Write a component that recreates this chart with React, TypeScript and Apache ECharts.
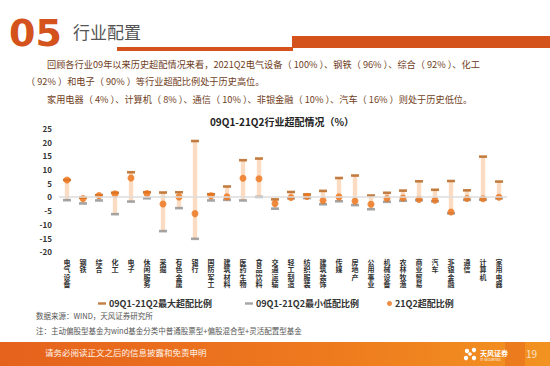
import React, { useEffect, useRef } from "react";
import * as echarts from "echarts";

const categories = ["电气设备","钢铁","综合","化工","电子","休闲服务","采掘","有色金属","银行","国防军工","建筑材料","医药生物","食品饮料","交通运输","轻工制造","纺织服装","建筑装饰","传媒","房地产","公用事业","机械设备","农林牧渔","商业贸易","汽车","非银金融","通信","计算机","家用电器"];
const maxVals = [6.2,-0.3,0.6,1.5,9.0,1.7,1.6,1.7,20.4,1.0,3.8,13.4,14.0,-0.9,1.8,0.9,2.2,6.9,7.8,0.5,1.5,2.3,5.7,2.6,5.8,2.4,14.7,5.6];
const minVals = [-1.2,-2.4,-1.3,-6.3,-1.7,-0.5,-12.5,-4.1,-15.3,-1.3,-1.1,-1.3,0.0,-4.3,-0.5,-0.4,-2.7,-1.6,-3.0,-4.5,-1.8,-1.4,-1.2,-1.6,-6.0,-1.1,-1.0,-0.5];
const curVals = [6.2,-0.6,0.5,1.1,6.9,1.2,-2.6,0.0,-6.1,0.4,0.0,6.8,6.6,-2.4,-0.2,0.2,-1.3,0.0,-1.5,-2.7,-0.6,-0.4,-0.9,-1.2,-5.5,-0.6,-0.7,-0.1];
const yTicks = { min: -20, max: 25, interval: 5 };
const seriesNames = ["09Q1-21Q2最大超配比例", "09Q1-21Q2最小低配比例", "21Q2超配比例"];

const FONT = "'Noto Sans CJK SC', 'Noto Sans', sans-serif";

export default function App() {
  const ref = useRef<HTMLDivElement>(null);
  useEffect(() => {
    if (!ref.current) return;
    const chart = echarts.init(ref.current, undefined, { renderer: "svg" });
    const dash = "path://M0,0H10V3H0Z";
    const option: any = {
      animation: false,
      backgroundColor: "#ffffff",
      textStyle: { fontFamily: FONT },
      title: {
        text: "09Q1-21Q2行业超配情况（%）",
        left: 277,
        top: 111,
        textAlign: "center",
        textStyle: { fontSize: 10, fontWeight: "bold", color: "#222", fontFamily: FONT },
      },
      legend: [0, 1, 2].map((k) => ({
        data: [{ name: seriesNames[k], icon: k === 2 ? "circle" : dash }],
        left: [93, 240, 382][k],
        top: 294,
        itemWidth: k === 2 ? 5 : 8,
        itemHeight: k === 2 ? 5 : 8,
        itemGap: 4,
        textStyle: { fontSize: 9, fontWeight: "bold", color: "#333", fontFamily: FONT, padding: [0, 0, 0, -2] },
        selectedMode: false,
      })),
      grid: { left: 59, right: 43, top: 128.4, height: 123.3 },
      xAxis: {
        type: "category",
        data: categories,
        axisLine: { show: false },
        axisTick: { show: false },
        axisLabel: {
          interval: 0,
          margin: 6,
          fontSize: 7,
          lineHeight: 7.6,
          fontWeight: "bold",
          color: "#333",
          fontFamily: FONT,
          verticalAlign: "top",
          formatter: (v: string) => v.split("").join("\n"),
        },
      },
      yAxis: {
        type: "value",
        min: yTicks.min,
        max: yTicks.max,
        interval: yTicks.interval,
        splitLine: { show: false },
        axisLine: { show: false },
        axisTick: { show: false },
        axisLabel: { fontSize: 8, fontWeight: "bold", color: "#333", margin: 7, fontFamily: FONT },
      },
      series: [
        {
          type: "custom",
          name: "range",
          data: categories.map((_, i) => [i, minVals[i], maxVals[i]]),
          encode: { x: 0, y: [1, 2] },
          renderItem: (params: any, api: any) => {
            const i = api.value(0);
            const lo = api.coord([i, api.value(1)]);
            const hi = api.coord([i, api.value(2)]);
            return {
              type: "rect",
              shape: { x: lo[0] - 2.2, y: hi[1], width: 4.4, height: lo[1] - hi[1] },
              style: { fill: "#FBDCC2" },
            };
          },
          markLine: {
            silent: true,
            symbol: "none",
            label: { show: false },
            lineStyle: { color: "#DCDCDC", width: 1.5, type: "solid" },
            data: [{ yAxis: 0 }],
          },
          z: 1,
        },
        {
          type: "scatter",
          name: seriesNames[1],
          data: minVals,
          symbol: "rect",
          symbolSize: [8, 2.6],
          itemStyle: { color: "#8E8E8E" },
          z: 2,
        },
        {
          type: "scatter",
          name: seriesNames[0],
          data: maxVals,
          symbol: "rect",
          symbolSize: [8, 2.6],
          itemStyle: { color: "#B45E14" },
          z: 3,
        },
        {
          type: "scatter",
          name: seriesNames[2],
          data: curVals,
          symbol: "circle",
          symbolSize: 7,
          itemStyle: { color: "#EC7318" },
          z: 4,
        },
      ],
      graphic: [
        { type: "text", left: 9, top: 14, style: { text: "05", fontSize: 38, fontWeight: 900, fill: "#D4521B", fontFamily: "'DejaVu Sans', sans-serif" } },
        { type: "text", left: 73, top: 23, style: { text: "行业配置", fontSize: 17, fill: "#555555", fontFamily: FONT } },
        { type: "rect", shape: { x: 117, y: 47, width: 176, height: 4 }, style: { fill: "#D4521B" } },
        { type: "rect", shape: { x: 292, y: 36, width: 258, height: 12 }, style: { fill: "#D4521B" } },
        { type: "text", left: 47, top: 59, style: { text: "回顾各行业09年以来历史超配情况来看，2021Q2电气设备（ 100% ）、钢铁（ 96% ）、综合（ 92% ）、化工", fontSize: 9.2, fill: "#70401C", fontFamily: FONT } },
        { type: "text", left: 26, top: 76, style: { text: "（ 92% ）和电子（ 90% ）等行业超配比例处于历史高位。", fontSize: 9.2, fill: "#70401C", fontFamily: FONT } },
        { type: "text", left: 47, top: 94, style: { text: "家用电器（ 4% ）、计算机（ 8% ）、通信（ 10% ）、非银金融（ 10% ）、汽车（ 16% ）则处于历史低位。", fontSize: 9.2, fill: "#70401C", fontFamily: FONT } },
        { type: "text", left: 36, top: 312, style: { text: "数据来源：WIND，天风证券研究所", fontSize: 7.5, fill: "#555", fontFamily: FONT } },
        { type: "text", left: 36, top: 327, style: { text: "注：主动偏股型基金为wind基金分类中普通股票型+偏股混合型+灵活配置型基金", fontSize: 7.5, fill: "#555", fontFamily: FONT } },
        {
          type: "rect",
          shape: { x: 0, y: 342, width: 550, height: 24 },
          style: {
            fill: new echarts.graphic.LinearGradient(0, 0, 1, 0, [
              { offset: 0, color: "#E5621D" },
              { offset: 0.6, color: "#EE7A1E" },
              { offset: 1, color: "#F29321" },
            ]),
          },
        },
        { type: "rect", shape: { x: 505, y: 342, width: 20, height: 24 }, style: { fill: "#E8701C", opacity: 0.6 } },
        { type: "text", left: 45, top: 348, style: { text: "请务必阅读正文之后的信息披露和免责申明", fontSize: 8.5, fill: "#FFF4EA", fontFamily: FONT } },
        { type: "circle", shape: { cx: 467, cy: 351, r: 2.2 }, style: { fill: "#fff" } },
        { type: "circle", shape: { cx: 474, cy: 350, r: 2.2 }, style: { fill: "#fff" } },
        { type: "circle", shape: { cx: 466, cy: 358, r: 2.2 }, style: { fill: "#fff" } },
        { type: "circle", shape: { cx: 474, cy: 358, r: 2.2 }, style: { fill: "#fff" } },
        { type: "circle", shape: { cx: 470, cy: 354, r: 1.8 }, style: { fill: "#fff" } },
        { type: "text", left: 480, top: 349, style: { text: "天风证券", fontSize: 7, fontWeight: "bold", fill: "#fff", fontFamily: FONT } },
        { type: "text", left: 480, top: 358, style: { text: "TF SECURITIES", fontSize: 3, fill: "#fff", fontFamily: FONT } },
        { type: "text", left: 526, top: 348, style: { text: "19", fontSize: 10, fill: "#FCE1C8", fontFamily: FONT } },
      ],
    };
    chart.setOption(option);
    return () => chart.dispose();
  }, []);
  return (
    <div
      ref={ref}
      style={{ position: "fixed", left: 0, top: 0, width: 550, height: 366 }}
    />
  );
}
